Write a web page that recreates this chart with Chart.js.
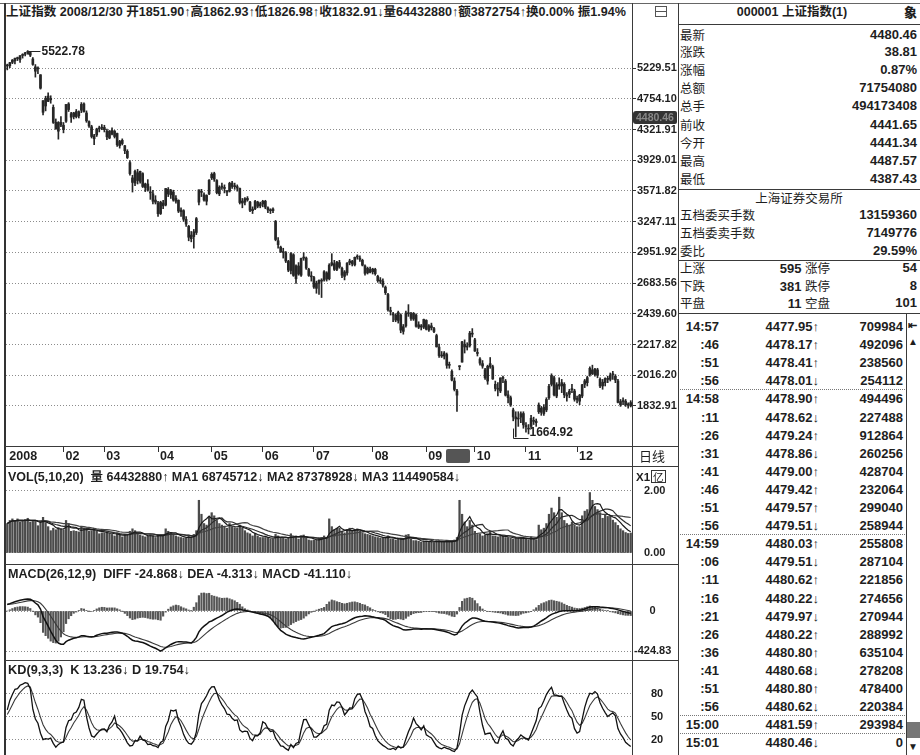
<!DOCTYPE html>
<html>
<head>
<meta charset="utf-8">
<script src="https://cdn.jsdelivr.net/npm/chart.js@4.4.1/dist/chart.umd.min.js"></script>
<style>
  body { margin: 0; width: 920px; height: 755px; overflow: hidden; position: relative; background: #fff;
         font-family: "Liberation Sans", "Noto Sans CJK SC", sans-serif; color: #1e1e1e; }
  .box { position: absolute; }
  .hl { position: absolute; height: 0; border-top: 1px solid #3a3a3a; }
  .vl { position: absolute; width: 0; border-left: 1px solid #3a3a3a; }
  .dot { border-top: 1px dotted #777; }
  .txt { position: absolute; white-space: nowrap; font-weight: bold; font-size: 12.5px; line-height: 16px; transform-origin: left center; }
  .cn { font-family: "Noto Sans CJK SC", sans-serif; font-weight: normal; font-size: 12.5px; }
  .num { font-weight: bold; font-size: 13px; }
</style>
</head>
<body>

<div class="box" style="left:6px;top:22px;width:672px;height:445px"><canvas id="mainChart"></canvas></div>
<div class="box" style="left:6px;top:467px;width:672px;height:97px"><canvas id="volChart"></canvas></div>
<div class="box" style="left:6px;top:564px;width:672px;height:96px"><canvas id="macdChart"></canvas></div>
<div class="box" style="left:6px;top:660px;width:672px;height:95px"><canvas id="kdChart"></canvas></div>

<!-- frame -->
<div class="hl" style="left:0;top:3px;width:920px;border-color:#666"></div>
<div class="vl" style="left:4px;top:3px;height:752px;border-left:2px solid #333"></div>
<div class="vl" style="left:632px;top:3px;height:752px"></div>
<div class="vl" style="left:678px;top:3px;height:752px"></div>
<div class="hl" style="left:5px;top:446px;width:673px"></div>
<div class="hl" style="left:5px;top:466px;width:673px"></div>
<div class="hl" style="left:5px;top:564px;width:673px"></div>
<div class="hl" style="left:5px;top:660px;width:673px"></div>

<div class="txt fit" data-w="620" style="left:6px;top:4px">上证指数 2008/12/30 开1851.90↑高1862.93↑低1826.98↑收1832.91↓量64432880↑额3872754↑换0.00% 振1.94%</div>
<div class="box" style="left:655px;top:6px;width:10px;height:9px;border:1px solid #555"></div>
<div class="hl" style="left:656px;top:11px;width:10px;border-color:#555"></div>
<div class="box" style="left:633px;top:111px;width:44px;height:13px;background:#333;border-radius:3px 2px 2px 3px"></div>
<div class="txt" style="left:636px;top:109px;font-size:10.5px;color:#888">4480.46</div>
<div class="box" style="left:446px;top:449px;width:24px;height:14px;background:#555;border-radius:2px"></div>
<div class="txt cn" style="left:639px;top:448px;font-size:13px">日线</div>

<div class="txt fit" data-w="452" style="left:8px;top:469px">VOL(5,10,20)&nbsp;&nbsp;量 64432880↑ MA1 68745712↓ MA2 87378928↓ MA3 114490584↓</div>
<div class="txt" style="left:636px;top:469px;font-size:11.5px">X1<span style="border:1px solid #333;padding:0 1px;margin-left:1px;font-family:'Noto Sans CJK SC';font-weight:normal;font-size:10.5px;line-height:11px;display:inline-block">亿</span></div>
<div class="txt fit" data-w="344" style="left:8px;top:566px">MACD(26,12,9)&nbsp;&nbsp;DIFF -24.868↓ DEA -4.313↓ MACD -41.110↓</div>
<div class="txt fit" data-w="182" style="left:8px;top:662px">KD(9,3,3)&nbsp;&nbsp;K 13.236↓ D 19.754↓</div>

<div id="side"></div>

<script>
// ---- chart values, 2008 daily candles ----
const monthLabels = ["2008", "02", "03", "04", "05", "06", "07", "08", "09", "10", "11", "12"];
const monthDays = [22, 16, 21, 21, 20, 20, 23, 21, 19, 20, 20, 22];

const opens = [
  5265,5269,5325,5350,5400,5372,5440,5460,5490,5490,5380,5250,5218,5123,4727,4650,4795,4740,4630,4420,4300,4420,
  4380,4435,4680,4540,4500,4570,4510,4590,4680,4550,4430,4360,4200,4250,4330,4340,
  4350,4300,4210,4310,4230,4270,4110,4180,4110,4040,3900,3720,3660,3780,3680,3770,3610,3650,3560,3540,3450,
  3440,3330,3440,3420,3590,3530,3560,3460,3470,3350,3360,3270,3200,3080,3100,3140,3450,3560,3530,3460,3540,
  3720,3770,3690,3540,3620,3600,3560,3570,3660,3620,3620,3600,3440,3450,3490,3450,3360,3380,3450,3410,
  3430,3460,3390,3360,3360,3250,3060,3000,2950,2950,2870,2790,2930,2720,2830,2750,2900,2900,2800,2740,
  2730,2640,2680,2700,2710,2770,2720,2840,2850,2800,2860,2810,2740,2770,2860,2870,2840,2910,2900,2880,2830,2770,2800,
  2780,2800,2740,2700,2700,2650,2590,2460,2440,2430,2390,2430,2310,2350,2440,2440,2400,2430,2340,2350,2340,
  2390,2320,2350,2330,2280,2200,2140,2140,2150,2080,2040,1980,1920,2070,2100,2220,2200,2210,2290,
  2250,2160,2120,2090,2050,1980,2090,2070,1960,1930,1920,2000,1980,1880,1880,1810,1760,1760,1770,1790,
  1720,1710,1720,1750,1740,1800,1820,1790,1810,1880,1960,2000,1890,1950,1950,1960,1890,1900,1930,1920,
  1870,1860,1890,1960,1970,2020,2050,2020,2050,1990,1950,1970,1990,1990,2020,2010,1980,1840,1860,1860,1840,1851.90
];
const highs = [
  5295,5325,5372,5394,5412,5436,5469,5491,5522.78,5505,5405,5288,5251,5125,4727,4793,4843,4800,4665,4467,4430,4500,
  4418,4672,4699,4560,4560,4600,4580,4700,4695,4580,4440,4380,4260,4340,4368,4390,
  4380,4330,4310,4346,4310,4275,4180,4199,4115,4060,3925,3750,3810,3820,3800,3780,3660,3700,3620,3580,3520,
  3460,3460,3470,3600,3610,3590,3580,3520,3475,3390,3370,3300,3210,3150,3170,3290,3584,3590,3550,3530,3700,
  3780,3786,3700,3630,3660,3640,3580,3670,3680,3660,3640,3605,3490,3500,3510,3460,3400,3470,3460,3450,
  3470,3470,3400,3380,3390,3260,3090,3010,2990,2960,2880,2950,2940,2840,2860,2900,2950,2910,2810,2780,
  2740,2700,2710,2720,2790,2780,2850,2940,2880,2870,2880,2820,2790,2860,2890,2880,2910,2930,2920,2890,2840,2820,2820,
  2810,2810,2750,2730,2720,2660,2600,2490,2450,2440,2460,2440,2360,2460,2510,2450,2450,2440,2380,2360,2400,
  2395,2360,2370,2340,2290,2220,2170,2170,2160,2100,2050,2000,1930,2076,2240,2250,2230,2310,2330,
  2260,2190,2130,2110,2060,2080,2130,2080,1980,1970,2000,2010,1990,1920,1890,1820,1800,1800,1800,1800,
  1740,1730,1780,1770,1760,1850,1830,1840,1880,1960,2025,2010,1970,2000,1990,1970,1910,1930,1960,1930,
  1890,1900,1960,1990,2010,2070,2080,2060,2060,2000,1990,2000,2010,2030,2040,2020,1990,1870,1880,1870,1850,1862.93
];
const lows = [
  5201,5237,5303,5297,5354,5323,5395,5430,5461,5420,5276,5086,5140,4900,4522,4580,4712,4690,4405,4327,4195,4360,
  4278,4420,4571,4420,4467,4480,4480,4555,4560,4420,4350,4210,4123,4230,4290,4320,
  4290,4190,4200,4250,4210,4100,4080,4120,4010,3950,3750,3560,3630,3650,3660,3610,3565,3570,3480,3430,3430,
  3300,3320,3380,3410,3510,3490,3460,3440,3340,3300,3250,3200,3060,3050,2991,3120,3420,3510,3460,3420,3530,
  3700,3680,3540,3520,3590,3550,3520,3560,3600,3590,3570,3430,3390,3420,3460,3350,3330,3370,3390,3390,
  3400,3380,3340,3330,3340,3060,2990,2950,2900,2860,2780,2760,2740,2680,2750,2740,2880,2800,2740,2700,
  2640,2600,2590,2566,2700,2700,2710,2830,2790,2790,2810,2730,2710,2750,2840,2830,2830,2890,2870,2830,2750,2760,2770,
  2760,2750,2690,2680,2650,2590,2460,2430,2380,2380,2370,2300,2290,2340,2420,2390,2390,2340,2330,2320,2330,
  2320,2310,2320,2300,2200,2130,2130,2120,2060,2060,1980,1920,1802,2050,2100,2160,2180,2200,2270,
  2170,2140,2080,2060,1990,1960,2060,1990,1920,1890,1910,1970,1890,1850,1830,1750,1664.92,1720,1740,1710,
  1690,1680,1710,1730,1720,1790,1780,1780,1800,1870,1950,1890,1880,1930,1910,1880,1860,1880,1910,1860,
  1850,1840,1880,1940,1950,2010,2020,2010,2000,1940,1930,1950,1970,1980,1990,1970,1850,1830,1840,1830,1820,1826.98
];
const closes = [
  5273,5320,5362,5393,5387,5436,5457,5485,5498,5444,5291,5180,5218,4914,4560,4762,4717,4762,4419,4330,4418,4383,
  4321,4672,4599,4490,4552,4497,4568,4673,4570,4440,4370,4230,4238,4329,4345,4349,
  4320,4226,4300,4261,4300,4123,4165,4138,4047,3962,3770,3668,3796,3690,3796,3622,3650,3580,3550,3460,3472,
  3329,3449,3411,3599,3538,3575,3472,3492,3356,3366,3272,3223,3094,3115,3147,3278,3584,3557,3473,3523,3693,
  3761,3705,3554,3613,3614,3606,3561,3657,3622,3625,3605,3446,3462,3487,3474,3364,3375,3458,3406,3433,
  3459,3397,3368,3362,3377,3072,3024,2957,2957,2874,2794,2941,2748,2831,2760,2897,2904,2811,2748,2736,
  2651,2683,2706,2703,2780,2717,2837,2859,2800,2863,2820,2750,2778,2855,2874,2849,2907,2909,2889,2837,2766,2809,2775,
  2803,2763,2703,2700,2667,2605,2470,2457,2431,2393,2450,2319,2344,2445,2443,2405,2443,2347,2358,2342,2397,
  2325,2350,2336,2309,2202,2143,2145,2160,2079,2079,1986,1929,1895,2075,2236,2201,2201,2297,2293,
  2173,2157,2093,2074,2000,2073,2071,1993,1935,1930,1999,1996,1895,1897,1838,1771,1771,1763,1789,1728,
  1719,1706,1764,1747,1748,1838,1797,1825,1870,1948,2014,1897,1957,1960,1970,1897,1895,1919,1928,1871,
  1876,1895,1957,1981,2001,2060,2026,2054,2015,1950,1973,1996,1990,2017,2019,1986,1853,1858,1858,1839,1838,1832.91
];
// volume in units of 1亿
const volumes = [
  0.95,1.05,1.10,1.05,1.10,1.00,1.05,1.08,1.12,1.00,1.02,1.05,0.88,1.00,1.15,0.98,0.85,0.72,0.80,0.75,0.82,0.78,
  0.75,1.05,0.95,0.70,0.72,0.70,0.68,0.85,0.80,0.75,0.70,0.72,0.80,0.70,0.62,0.65,
  0.65,0.68,0.62,0.60,0.55,0.62,0.58,0.52,0.60,0.58,0.70,0.78,0.72,0.60,0.58,0.55,0.52,0.55,0.58,0.55,0.50,
  0.58,0.60,0.55,0.78,0.70,0.65,0.58,0.55,0.52,0.50,0.48,0.48,0.55,0.52,0.60,0.72,1.70,1.25,0.95,0.90,1.15,
  1.30,1.20,1.05,0.95,0.90,0.85,0.80,0.95,0.85,0.82,0.80,0.90,0.80,0.72,0.65,0.62,0.55,0.62,0.55,0.50,
  0.50,0.50,0.48,0.45,0.45,0.60,0.55,0.50,0.48,0.45,0.48,0.62,0.55,0.55,0.45,0.55,0.58,0.48,0.42,0.40,
  0.42,0.42,0.45,0.50,0.55,0.50,1.10,0.85,0.75,0.80,0.80,0.70,0.65,0.75,0.80,0.70,0.75,0.78,0.70,0.65,0.62,0.60,0.58,
  0.55,0.52,0.50,0.48,0.48,0.50,0.55,0.45,0.45,0.42,0.45,0.45,0.42,0.58,0.60,0.45,0.40,0.40,0.38,0.35,0.38,
  0.38,0.36,0.35,0.34,0.40,0.40,0.35,0.35,0.38,0.35,0.40,0.42,0.50,1.70,1.25,1.00,0.85,1.05,0.90,
  0.70,0.60,0.62,0.55,0.58,0.62,0.70,0.55,0.55,0.52,0.55,0.55,0.50,0.50,0.48,0.45,0.50,0.48,0.48,0.45,
  0.45,0.42,0.52,0.45,0.42,0.90,0.75,0.80,0.95,1.25,1.45,1.30,1.15,1.80,1.30,1.05,0.95,0.90,1.00,0.90,
  0.85,0.85,1.20,1.35,1.40,1.95,1.70,1.50,1.40,1.30,1.12,1.24,1.18,1.20,1.06,0.98,0.89,0.78,0.72,0.66,0.63,0.644
];
// MACD DIFF line
const diffValues = [
  70,78,88,98,106,114,120,125,128,124,110,85,65,20,-60,-110,-160,-215,-265,-310,-340,-352,
  -352,-325,-310,-300,-290,-285,-275,-262,-262,-268,-272,-275,-270,-258,-248,-240,
  -236,-235,-230,-226,-222,-224,-228,-235,-250,-268,-290,-310,-318,-322,-328,-335,-345,-358,-372,-385,-395,
  -410,-424.83,-410,-390,-372,-355,-342,-330,-325,-326,-328,-330,-335,-340,-315,-280,-222,-185,-160,-140,-115,
  -106,-90,-75,-62,-48,-30,-12,0,10,18,21,20,12,5,0,-6,-12,-18,-25,-32,
  -38,-45,-55,-75,-105,-140,-175,-205,-225,-245,-258,-268,-275,-282,-288,-295,-297,-292,-285,-278,
  -272,-265,-258,-250,-240,-215,-190,-165,-155,-148,-140,-135,-128,-115,-100,-85,-72,-64,-58,-55,-50,-52,-55,
  -62,-68,-75,-82,-88,-100,-120,-140,-155,-165,-172,-185,-200,-202,-198,-195,-192,-191,-192,-193,-190,
  -190,-191,-192,-193,-198,-205,-210,-214,-222,-232,-245,-255,-245,-205,-160,-130,-110,-88,-75,
  -74,-80,-90,-100,-108,-112,-115,-118,-122,-126,-130,-138,-145,-155,-162,-168,-175,-180,-178,-176,
  -176,-175,-170,-160,-145,-125,-106,-90,-72,-52,-35,-25,-15,-6,0,2,3,4,5,4,
  5,8,14,22,32,42,45,46,45,42,40,38,36,30,26,20,12,4,-4,-12,-18,-24.868
];

// axis tick labels
const priceTickLabels = ["1832.91", "2016.20", "2217.82", "2439.60", "2683.56", "2951.92",
                         "3247.11", "3571.82", "3929.01", "4321.91", "4754.10", "5229.51"];
const volTickLabels = ["0.00", "2.00"];
const macdTickLabels = ["-424.83", "0"];
const kdTickLabels = ["20", "50", "80"];

// side panel texts
const quoteLabels = ["最新", "涨跌", "涨幅", "总额", "总手", "前收", "今开", "最高", "最低"];
const quoteValues = ["4480.46", "38.81", "0.87%", "71754080", "494173408", "4441.65", "4441.34", "4487.57", "4387.43"];
const bookLabels = ["五档委买手数", "五档委卖手数", "委比"];
const bookValues = ["13159360", "7149776", "29.59%"];
const breadth = [["上涨", "595 涨停", "54"], ["下跌", "381 跌停", "8"], ["平盘", "11 空盘", "101"]];
const tickTimes = ["14:57", ":46", ":51", ":56", "14:58", ":11", ":26", ":31", ":41", ":46", ":51", ":56",
                   "14:59", ":06", ":11", ":16", ":21", ":26", ":36", ":41", ":51", ":56", "15:00", "15:01"];
const tickPrices = ["4477.95↑", "4478.17↑", "4478.41↑", "4478.01↓", "4478.90↑", "4478.62↓", "4479.24↑", "4478.86↓",
                    "4479.00↑", "4479.42↑", "4479.57↑", "4479.51↓", "4480.03↑", "4479.51↓", "4480.62↑", "4480.22↓",
                    "4479.97↓", "4480.22↑", "4480.80↑", "4480.68↓", "4480.80↑", "4480.62↓", "4481.59↑", "4480.46↓"];
const tickVols = ["709984", "492096", "238560", "254112", "494496", "227488", "912864", "260256", "428704", "232064",
                  "299040", "258944", "255808", "287104", "221856", "274656", "270944", "288992", "635104", "278208",
                  "478400", "220384", "293984", "0"];

const n = closes.length;
[opens, highs, lows, volumes, diffValues].forEach(a => { if (a.length !== n) throw new Error("length " + a.length + " vs " + n); });

// category labels, one per trading day
const days = [];
const monthStart = {};
monthDays.forEach((cnt, m) => {
  monthStart[days.length] = monthLabels[m];
  for (let d = 0; d < cnt; d++) days.push((m + 1) + "-" + (d + 1));
});

// indicator lines built from the values above
function ema(src, p) {
  const out = [];
  src.forEach((v, i) => out.push(i === 0 ? v : (2 * v + (p - 1) * out[i - 1]) / (p + 1)));
  return out;
}
function ma(src, p) {
  return src.map((v, i) => {
    const w = src.slice(Math.max(0, i - p + 1), i + 1);
    return w.reduce((a, b) => a + b, 0) / w.length;
  });
}
const deaValues = ema(diffValues, 9);
const macdBars = diffValues.map((d, i) => 2 * (d - deaValues[i]));

const kLine = [], dLine = [];
let kv = 50, dv = 50;
closes.forEach((c, i) => {
  const lo = Math.min(...lows.slice(Math.max(0, i - 8), i + 1));
  const hi = Math.max(...highs.slice(Math.max(0, i - 8), i + 1));
  const rsv = hi === lo ? 50 : (c - lo) / (hi - lo) * 100;
  kv = (rsv + 2 * kv) / 3;
  dv = (kv + 2 * dv) / 3;
  kLine.push(kv);
  dLine.push(dv);
});

// ---- charts ----
const FONT = '"Liberation Sans", "Noto Sans CJK SC", sans-serif';
const INK = "#262626";

function rightAxis(type, min, max, values, labels, pad, tickLen) {
  return {
    type: type, min: min, max: max, position: "right",
    afterBuildTicks: s => { s.ticks = values.map(v => ({ value: v })); },
    afterFit: s => { s.width = 46; s.paddingTop = 0; s.paddingBottom = 0; },
    grid: { color: "#8c8c8c", lineWidth: 1, drawTicks: tickLen > 0, tickLength: tickLen, tickColor: "#333", tickBorderDash: [] },
    border: { display: false, dash: [1, 2] },
    ticks: {
      autoSkip: false, crossAlign: "center", padding: pad, color: "#1e1e1e",
      font: { family: FONT, size: 11, weight: "bold" },
      callback: v => labels[values.indexOf(v)]
    }
  };
}
const hiddenX = { type: "category", offset: true, display: false };
const common = {
  responsive: true, maintainAspectRatio: false, animation: false, events: [],
  layout: { padding: 0 },
  plugins: { legend: { display: false }, tooltip: { enabled: false } }
};
function lineSet(data, color, width) {
  return { type: "line", data: data, borderColor: color, borderWidth: width, pointRadius: 0, tension: 0, order: 0 };
}

// max / min markers on the price chart
const markPlugin = {
  id: "hiLoMarks",
  afterDatasetsDraw(chart) {
    const { ctx, scales: { x, y } } = chart;
    const hiIdx = highs.indexOf(Math.max(...highs));
    const loIdx = lows.indexOf(Math.min(...lows));
    ctx.save();
    ctx.strokeStyle = INK; ctx.fillStyle = "#1e1e1e"; ctx.lineWidth = 1;
    ctx.font = "bold 12px " + FONT;
    ctx.textBaseline = "middle";
    let px = Math.round(x.getPixelForValue(hiIdx)) + 0.5;
    let py = Math.round(y.getPixelForValue(highs[hiIdx])) + 0.5;
    ctx.beginPath(); ctx.moveTo(px, py + 3); ctx.lineTo(px, py); ctx.lineTo(px + 12, py); ctx.stroke();
    ctx.fillText(highs[hiIdx].toFixed(2), px + 13, py);
    px = Math.round(x.getPixelForValue(loIdx)) - 2.5;
    py = Math.round(y.getPixelForValue(lows[loIdx])) + 1.5;
    ctx.beginPath(); ctx.moveTo(px, py - 10); ctx.lineTo(px, py); ctx.lineTo(px + 15, py); ctx.stroke();
    ctx.fillText(lows[loIdx].toFixed(2), px + 16, py - 6);
    ctx.restore();
  }
};

new Chart(document.getElementById("mainChart"), {
  type: "bar",
  data: {
    labels: days,
    datasets: [
      {
        data: opens.map((o, i) => [Math.min(o, closes[i]), Math.max(o, closes[i])]),
        backgroundColor: INK, barThickness: 2, minBarLength: 1, grouped: false, order: 0
      },
      {
        data: lows.map((l, i) => [Math.min(l, opens[i], closes[i]), Math.max(highs[i], opens[i], closes[i])]),
        backgroundColor: INK, barThickness: 1, grouped: false, order: 1
      }
    ]
  },
  options: Object.assign({}, common, {
    scales: {
      x: {
        type: "category", offset: true, position: "bottom",
        afterBuildTicks: s => { s.ticks = Object.keys(monthStart).map(k => ({ value: +k })); },
        afterFit: s => { s.height = 21; s.paddingLeft = 0; s.paddingRight = 0; },
        grid: { offset: false, drawOnChartArea: false, drawTicks: true, tickLength: 6,
                tickColor: c => (c.index === 0 ? "rgba(0,0,0,0)" : "#333") },
        border: { display: false },
        ticks: {
          autoSkip: false, maxRotation: 0, minRotation: 0, align: "start", labelOffset: 2, padding: -3,
          color: "#1e1e1e", font: { family: FONT, size: 12.5, weight: "bold" },
          callback: v => monthStart[v]
        }
      },
      y: rightAxis("logarithmic", 1618.4, 6035, priceTickLabels.map(Number), priceTickLabels, 1, 4)
    }
  }),
  plugins: [markPlugin]
});

new Chart(document.getElementById("volChart"), {
  type: "bar",
  data: {
    labels: days,
    datasets: [
      lineSet(ma(volumes, 5), "#1a1a1a", 1.2),
      lineSet(ma(volumes, 10), "#2e2e2e", 1.2),
      lineSet(ma(volumes, 20), "#444", 1.2),
      { type: "bar", data: volumes, backgroundColor: "#4a4a4a", barThickness: 1.6, order: 1 }
    ]
  },
  options: Object.assign({}, common, {
    scales: { x: hiddenX, y: rightAxis("linear", -0.355, 2.774, [0, 2], volTickLabels, 12, 0) }
  })
});

new Chart(document.getElementById("macdChart"), {
  type: "bar",
  data: {
    labels: days,
    datasets: [
      lineSet(diffValues, "#111", 1.5),
      lineSet(deaValues, "#3a3a3a", 1.1),
      { type: "bar", data: macdBars, backgroundColor: "#555", barThickness: 1.5, order: 1 }
    ]
  },
  options: Object.assign({}, common, {
    scales: { x: hiddenX, y: rightAxis("linear", -520, 499, [-424.83, 0], macdTickLabels, 2, 0) }
  })
});

new Chart(document.getElementById("kdChart"), {
  type: "line",
  data: {
    labels: days,
    datasets: [lineSet(kLine, "#111", 1.3), lineSet(dLine, "#3a3a3a", 1.1)]
  },
  options: Object.assign({}, common, {
    scales: { x: hiddenX, y: rightAxis("linear", 0, 124, [20, 50, 80], kdTickLabels, 19, 0) }
  })
});

// ---- side quote panel ----
const side = document.getElementById("side");
function put(html, style) {
  const d = document.createElement("div");
  d.className = "txt";
  d.innerHTML = html;
  d.setAttribute("style", style);
  side.appendChild(d);
}
function line(top, left, width, cls) {
  const d = document.createElement("div");
  d.className = "hl" + (cls ? " " + cls : "");
  d.setAttribute("style", "left:" + left + "px;top:" + top + "px;width:" + width + "px");
  side.appendChild(d);
}
put("000001 上证指数(1)", "left:678px;width:228px;text-align:center;top:4px");
put("象", "left:904px;top:4px;font-family:'Noto Sans CJK SC';font-weight:900;font-size:13px");
line(24, 678, 242);
quoteLabels.forEach((lab, i) => {
  const top = [35, 52, 70, 88, 106, 125, 143, 161, 179][i] - 8;
  put('<span class="cn">' + lab + "</span>", "left:680px;top:" + top + "px");
  put('<span class="num">' + quoteValues[i] + "</span>", "right:3px;top:" + top + "px;text-align:right");
});
line(189, 678, 242);
put('<span class="cn">上海证券交易所</span>', "left:678px;width:242px;text-align:center;top:190px");
bookLabels.forEach((lab, i) => {
  const top = 207 + i * 18;
  put('<span class="cn">' + lab + "</span>", "left:680px;top:" + top + "px");
  put('<span class="num">' + bookValues[i] + "</span>", "right:3px;top:" + top + "px;text-align:right");
});
line(260, 678, 242);
breadth.forEach((row, i) => {
  const top = 260 + i * 17.6;
  put('<span class="cn">' + row[0] + "</span>", "left:680px;top:" + top + "px");
  put('<span class="num">' + row[1].split(" ")[0] + '</span> <span class="cn">' + row[1].split(" ")[1] + "</span>",
      "right:90px;top:" + top + "px;text-align:right");
  put('<span class="num">' + row[2] + "</span>", "right:3px;top:" + top + "px;text-align:right");
});
line(313, 678, 242);
tickTimes.forEach((t, i) => {
  const top = 319 + i * 18.1;
  put('<span class="num">' + t + "</span>", "left:680px;width:39px;text-align:right;top:" + top + "px");
  put('<span class="num">' + tickPrices[i] + "</span>", "right:101px;text-align:right;top:" + top + "px");
  put('<span class="num">' + tickVols[i] + "</span>", "right:17px;text-align:right;top:" + top + "px");
});
[389, 534, 715, 733].forEach(y => line(y, 680, 225, "dot"));
// scroll bar
side.insertAdjacentHTML("beforeend",
  '<div class="vl" style="left:906px;top:313px;height:442px"></div>' +
  '<div class="txt" style="left:908px;top:317px;font-size:11px">⇤</div>' +
  '<div class="txt" style="left:908px;top:334px;font-size:10px">▲</div>' +
  '<div class="box" style="left:907px;top:722px;width:13px;height:16px;background:#777"></div>' +
  '<div class="txt" style="left:908px;top:739px;font-size:10px">▼</div>');

// squeeze the long header lines into their width
document.querySelectorAll(".fit").forEach(el => {
  const w = +el.dataset.w;
  const nat = el.getBoundingClientRect().width;
  el.style.transform = "scaleX(" + (w / nat) + ")";
});
</script>
</body>
</html>
